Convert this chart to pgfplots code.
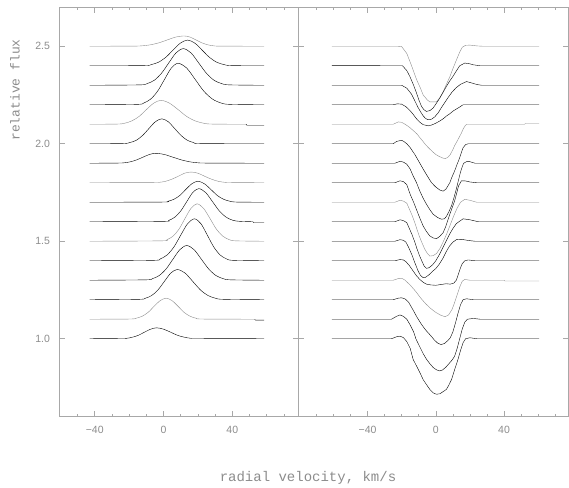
\documentclass[border=0pt]{standalone}
\usepackage{fontspec}
\setmainfont{Liberation Sans}
\newfontfamily\monof{Liberation Mono}
\usepackage{pgfplots}
\pgfplotsset{compat=1.18}
\definecolor{axc}{gray}{0.66}
\definecolor{lnc}{gray}{0.55}
\definecolor{txc}{gray}{0.55}
\pgfplotsset{
  panel/.style={
    scale only axis, height=409.4pt, ymin=0.6, ymax=2.7,
    axis line style={axc, line width=0.6pt},
    every tick/.style={axc, line width=0.6pt},
    major tick length=5.5pt, minor tick length=3pt,
    xtick pos=both, ytick pos=both,
    xtick={-40,0,40}, xticklabels={−40,0,40},
    ytick={1.0,1.5,2.0,2.5},
    tick label style={font=\fontsize{10.5}{11}\selectfont, text=txc},
    xticklabel style={yshift=-6pt},
    yticklabel style={xshift=-6pt},
    cycle list={{lnc, solid, line width=0.4pt, mark=none}},
  }
}
\begin{document}
\begin{tikzpicture}
\path[use as bounding box] (0,0) rectangle (569pt,487pt);
% ---------------- left panel: emission ----------------
\begin{axis}[panel, at={(59.5pt,70.3pt)}, anchor=south west,
  width=239pt, xmin=-60.5, xmax=78.5,
  minor xtick={-50,-30,-20,-10,10,20,30,50,60,70},
  yticklabels={1.0,1.5,2.0,2.5},
  xlabel={radial velocity, km/s}, ylabel={relative flux},
  every axis x label/.style={at={(rel axis cs:1.0397,-0.1588)}, anchor=base,
    font=\monof\fontsize{14}{14}\selectfont, text=txc},
  every axis y label/.style={at={(rel axis cs:-0.1862,0.798)}, rotate=90, anchor=center,
    font=\monof\fontsize{13}{13}\selectfont, text=txc},
]
\addplot+[smooth] coordinates {(-43,2.5) (-18,2.501) (-13,2.502) (-8,2.507) (-3,2.517) (2,2.532) (7,2.547) (12,2.553) (15.5,2.547) (19,2.532) (22.5,2.517) (26,2.507) (29.5,2.502) (33,2.501) (58.5,2.5)};
\addplot+[smooth] coordinates {(-43,2.4) (-11.5,2.401) (-7.25,2.406) (-3,2.418) (1.25,2.443) (5.5,2.480) (9.75,2.516) (14,2.532) (18.25,2.516) (22.5,2.480) (26.75,2.443) (31,2.418) (35.25,2.406) (39.5,2.401) (58.5,2.4)};
\addplot+[smooth] coordinates {(-43,2.3) (-14,2.302) (-9.75,2.308) (-5.5,2.325) (-1.25,2.361) (3,2.414) (7.25,2.466) (11.5,2.488) (16,2.466) (20.5,2.414) (25,2.361) (29.5,2.325) (34,2.308) (38.5,2.302) (58.5,2.3)};
\addplot+[smooth] coordinates {(-43,2.2) (-15.5,2.202) (-11.5,2.209) (-7.5,2.229) (-3.5,2.269) (0.5,2.329) (4.5,2.388) (8.5,2.413) (13.5,2.388) (18.5,2.329) (23.5,2.269) (28.5,2.229) (33.5,2.209) (38.5,2.202) (58.5,2.2)};
\addplot+[smooth] coordinates {(-43,2.1) (-27,2.101) (-22.75,2.105) (-18.5,2.117) (-14.25,2.140) (-10,2.175) (-5.75,2.208) (-1.5,2.223) (3.5,2.208) (8.5,2.175) (13.5,2.140) (18.5,2.117) (23.5,2.105) (28.5,2.101) (48,2.1)};
\addplot coordinates {(48,2.1) (48.5,2.095) (58.5,2.095)};
\addplot+[smooth] coordinates {(-43,2.0) (-23.5,2.001) (-19.75,2.006) (-16,2.017) (-12.25,2.042) (-8.5,2.078) (-4.75,2.113) (-1,2.128) (2.75,2.113) (6.5,2.078) (10.25,2.042) (14,2.017) (17.75,2.006) (21.5,2.001) (58.5,2.0)};
\addplot+[smooth] coordinates {(-43,1.9) (-27,1.901) (-23.25,1.902) (-19.5,1.907) (-15.75,1.917) (-12,1.931) (-8.25,1.945) (-4.5,1.951) (0.5,1.945) (5.5,1.931) (10.5,1.917) (15.5,1.907) (20.5,1.902) (25.5,1.901) (58.5,1.9)};
\addplot+[smooth] coordinates {(-43,1.8) (-6.5,1.801) (-2.75,1.802) (1,1.807) (4.75,1.818) (8.5,1.833) (12.25,1.849) (16,1.855) (20,1.849) (24,1.833) (28,1.818) (32,1.807) (36,1.802) (40,1.801) (58.5,1.8)};
\addplot+[smooth] coordinates {(-43,1.7) (-1,1.701) (2.5,1.705) (6,1.715) (9.5,1.735) (13,1.766) (16.5,1.795) (20,1.808) (23.75,1.795) (27.5,1.766) (31.25,1.735) (35,1.715) (38.75,1.705) (42.5,1.701) (58.5,1.7)};
\addplot+[smooth] coordinates {(-43,1.6) (-0.5,1.602) (3,1.607) (6.5,1.623) (10,1.655) (13.5,1.703) (17,1.750) (20.5,1.770) (24.5,1.750) (28.5,1.703) (32.5,1.655) (36.5,1.623) (40.5,1.607) (44.5,1.602) (52,1.6)};
\addplot coordinates {(52,1.6) (52.5,1.595) (58.5,1.595)};
\addplot+[smooth] coordinates {(-43,1.5) (-1.5,1.502) (2,1.508) (5.5,1.526) (9,1.562) (12.5,1.617) (16,1.669) (19.5,1.692) (23.25,1.669) (27,1.617) (30.75,1.562) (34.5,1.526) (38.25,1.508) (42,1.502) (58.5,1.5)};
\addplot+[smooth] coordinates {(-43,1.4) (-6,1.402) (-2,1.409) (2,1.429) (6,1.470) (10,1.531) (14,1.590) (18,1.615) (21.75,1.590) (25.5,1.531) (29.25,1.470) (33,1.429) (36.75,1.409) (40.5,1.402) (58.5,1.4)};
\addplot+[smooth] coordinates {(-43,1.3) (-10.5,1.302) (-6.5,1.308) (-2.5,1.324) (1.5,1.358) (5.5,1.408) (9.5,1.457) (13.5,1.478) (17.75,1.457) (22,1.408) (26.25,1.358) (30.5,1.324) (34.75,1.308) (39,1.302) (58.5,1.3)};
\addplot+[smooth] coordinates {(-43,1.2) (-14.5,1.202) (-10.75,1.207) (-7,1.221) (-3.25,1.250) (0.5,1.294) (4.25,1.337) (8,1.355) (12.5,1.337) (17,1.294) (21.5,1.250) (26,1.221) (30.5,1.207) (35,1.202) (58.5,1.2)};
\addplot+[smooth] coordinates {(-43,1.1) (-19.5,1.101) (-16,1.105) (-12.5,1.115) (-9,1.135) (-5.5,1.166) (-2,1.195) (1.5,1.208) (5,1.195) (8.5,1.166) (12,1.135) (15.5,1.115) (19,1.105) (22.5,1.101) (53,1.1)};
\addplot coordinates {(53,1.1) (53.5,1.095) (58.5,1.095)};
\addplot+[smooth] coordinates {(-43,1.0) (-25,1.001) (-21.5,1.002) (-18,1.008) (-14.5,1.018) (-11,1.034) (-7.5,1.049) (-4,1.056) (0,1.049) (4,1.034) (8,1.018) (12,1.008) (16,1.002) (20,1.001) (58.5,1.0)};
\end{axis}
% ---------------- right panel: absorption ----------------
\begin{axis}[panel, at={(298.5pt,70.3pt)}, anchor=south west,
  width=269.5pt, xmin=-80.5, xmax=77.5,
  minor xtick={-70,-60,-50,-30,-20,-10,10,20,30,50,60,70},
  yticklabels={,,,},
]
\addplot coordinates {(-61,2.5) (-22,2.5) (-20,2.498) (-17,2.463) (-14.2,2.4) (-11.3,2.33) (-9,2.285) (-7.4,2.25) (-5,2.225) (-3.5,2.215) (0.4,2.215) (2.5,2.238) (4.3,2.266) (6.2,2.305) (8.2,2.343) (10,2.385) (12.1,2.43) (14,2.47) (15.5,2.495) (17.5,2.505) (20,2.506) (24,2.502) (28,2.5) (60.5,2.5)};
\addplot coordinates {(-61,2.402) (-33,2.402) (-32.5,2.4) (-19.5,2.4) (-17,2.375) (-15.2,2.345) (-13,2.3) (-11.3,2.26) (-9.8,2.222) (-8.4,2.192) (-7,2.175) (-5.5,2.166) (-3.5,2.17) (-1.6,2.183) (0.5,2.21) (2.3,2.234) (4.3,2.265) (6.2,2.294) (8,2.32) (10,2.345) (12,2.373) (14,2.4) (17,2.414) (20,2.41) (22,2.405) (26,2.4) (60.5,2.4)};
\addplot coordinates {(-61,2.3) (-20,2.3) (-17,2.285) (-14.2,2.254) (-12.3,2.22) (-10.4,2.186) (-8.8,2.162) (-7.4,2.143) (-6,2.13) (-4.5,2.123) (-2.5,2.126) (-0.6,2.138) (1.5,2.16) (3.3,2.186) (5.3,2.212) (7.2,2.237) (9.5,2.265) (12,2.288) (14.5,2.305) (18,2.319) (21,2.312) (24,2.304) (27,2.3) (60.5,2.3)};
\addplot coordinates {(-61,2.2) (-25,2.2) (-22.5,2.205) (-20,2.203) (-17.5,2.19) (-15.2,2.171) (-13.2,2.15) (-11.3,2.128) (-9.3,2.11) (-7.4,2.098) (-4.5,2.092) (-2.5,2.096) (-0.6,2.103) (2,2.115) (4.3,2.128) (6.2,2.142) (8.2,2.154) (10.5,2.17) (13,2.183) (16,2.2) (60.5,2.2)};
\addplot coordinates {(-61,2.1) (-25,2.1) (-22,2.112) (-20,2.11) (-18,2.1) (-15.5,2.085) (-13,2.066) (-11,2.05) (-9.4,2.032) (-7.5,2.012) (-6,1.995) (-4,1.977) (-2,1.96) (0,1.945) (2,1.935) (4,1.927) (5.5,1.924) (7,1.93) (8.5,1.945) (10,1.97) (11,1.99) (12.3,2.01) (13.5,2.03) (15,2.055) (16,2.075) (17,2.09) (18,2.1) (52,2.1) (52.5,2.104) (60.5,2.104)};
\addplot coordinates {(-61,2.0) (-25,2.0) (-23,2.012) (-20,2.018) (-18.5,2.01) (-17,2.0) (-15,1.98) (-12.3,1.945) (-10,1.91) (-7.4,1.87) (-5,1.835) (-2.5,1.8) (0,1.778) (2.3,1.763) (4.3,1.757) (6,1.768) (8.2,1.8) (9.5,1.83) (11,1.86) (12.5,1.895) (14,1.928) (15,1.955) (16,1.98) (17.5,1.996) (19,2.0) (60.5,2.0)};
\addplot coordinates {(-61,1.9) (-24,1.9) (-21,1.91) (-19,1.906) (-17,1.895) (-15,1.87) (-13.3,1.835) (-11.3,1.8) (-9.4,1.758) (-7.5,1.722) (-5.5,1.69) (-3.5,1.662) (-1.6,1.639) (1,1.622) (3.3,1.613) (5,1.615) (6.2,1.627) (7.7,1.652) (9.2,1.682) (10.6,1.722) (12,1.767) (13.2,1.81) (14.4,1.852) (15.4,1.88) (16.3,1.9) (18,1.908) (20,1.908) (23,1.9) (60.5,1.9)};
\addplot coordinates {(-61,1.8) (-24,1.8) (-21,1.81) (-19,1.806) (-17,1.79) (-15,1.74) (-13,1.7) (-11,1.655) (-9.2,1.615) (-7.4,1.578) (-5.5,1.55) (-3.5,1.527) (-1.5,1.517) (0.4,1.513) (2.3,1.525) (4.3,1.544) (5.8,1.575) (7.2,1.612) (9,1.658) (11,1.706) (12.2,1.745) (13.3,1.783) (15,1.81) (17,1.81) (20,1.804) (24,1.8) (60.5,1.8)};
\addplot coordinates {(-61,1.7) (-24,1.7) (-21,1.71) (-19,1.706) (-17,1.695) (-15.5,1.665) (-14,1.635) (-12.5,1.6) (-11,1.56) (-9.5,1.522) (-8,1.49) (-6.5,1.46) (-5,1.438) (-3.5,1.424) (-1.5,1.426) (0.5,1.438) (2.5,1.464) (4.5,1.5) (6.5,1.54) (8.5,1.585) (10.5,1.63) (12.5,1.67) (14.5,1.7) (17,1.715) (20,1.71) (24,1.7) (60.5,1.7)};
\addplot coordinates {(-61,1.6) (-24,1.6) (-21,1.61) (-19,1.606) (-17,1.595) (-15.5,1.565) (-14,1.535) (-12.5,1.5) (-11,1.46) (-9.5,1.425) (-8,1.395) (-6.8,1.372) (-5.5,1.361) (-4,1.364) (-2,1.378) (0,1.4) (2,1.43) (4,1.465) (6,1.5) (8,1.535) (10,1.565) (12,1.59) (13.5,1.6) (16,1.615) (20,1.61) (25,1.6) (60.5,1.6)};
\addplot coordinates {(-61,1.5) (-24,1.5) (-21,1.508) (-19,1.505) (-17.5,1.495) (-16,1.47) (-14,1.43) (-12.3,1.39) (-10.5,1.35) (-9,1.325) (-7.4,1.313) (-6,1.315) (-4,1.328) (-2,1.345) (0,1.36) (2,1.382) (4,1.41) (6,1.445) (8,1.475) (10,1.495) (12,1.508) (15,1.51) (19,1.504) (23,1.5) (60.5,1.5)};
\addplot coordinates {(-61,1.4) (-24,1.4) (-21,1.406) (-19,1.404) (-17.5,1.395) (-15.5,1.375) (-13.5,1.35) (-11.5,1.325) (-9.5,1.305) (-7.5,1.29) (-5.5,1.28) (-3,1.276) (0,1.274) (3,1.278) (6,1.282) (8.5,1.28) (10.5,1.285) (12,1.3) (13.2,1.33) (14.3,1.36) (15.5,1.385) (17,1.4) (19,1.404) (23,1.4) (60.5,1.4)};
\addplot coordinates {(-61,1.3) (-25,1.3) (-21.5,1.31) (-19.5,1.308) (-18,1.3) (-15,1.275) (-12,1.245) (-9,1.21) (-6,1.18) (-3,1.155) (0,1.135) (3,1.12) (5.5,1.113) (7.5,1.122) (9.5,1.15) (11,1.185) (12.5,1.225) (14,1.265) (15.5,1.295) (17,1.304) (20,1.3) (40,1.3) (40.5,1.296) (60.5,1.296)};
\addplot coordinates {(-61,1.2) (-25,1.2) (-22,1.208) (-20,1.21) (-18,1.204) (-16,1.188) (-13.5,1.15) (-11,1.11) (-8.5,1.075) (-6,1.045) (-3.5,1.021) (-1,0.995) (1,0.978) (3,0.97) (5,0.975) (7,0.99) (8.5,1.005) (10,1.035) (11.5,1.08) (13,1.13) (14.5,1.175) (16,1.2) (18,1.205) (22,1.2) (60.5,1.2)};
\addplot coordinates {(-61,1.1) (-26,1.1) (-23,1.115) (-21,1.122) (-19,1.115) (-17,1.1) (-15,1.07) (-13,1.035) (-11.7,1.0) (-9.5,0.96) (-7.5,0.925) (-5.5,0.895) (-3.5,0.872) (-1.5,0.852) (0.5,0.84) (2.3,0.835) (4,0.84) (6,0.855) (8,0.875) (9.5,0.89) (11,0.91) (12.5,0.95) (14,1.0) (15.5,1.05) (17,1.085) (18.5,1.1) (22,1.104) (26,1.1) (60.5,1.1)};
\addplot coordinates {(-61,1.0) (-26,1.0) (-23,1.01) (-21,1.013) (-19,1.006) (-17,0.985) (-15,0.95) (-13.3,0.894) (-11,0.855) (-9,0.82) (-7.4,0.79) (-5.5,0.765) (-3.5,0.74) (-1.5,0.722) (0.4,0.715) (2.5,0.718) (4.5,0.73) (6.2,0.74) (7.5,0.76) (9.2,0.79) (11,0.84) (13,0.894) (14.5,0.94) (16,0.98) (17.5,1.0) (20,1.005) (24,1.0) (60.5,1.0)};
\end{axis}
\end{tikzpicture}
\end{document}
